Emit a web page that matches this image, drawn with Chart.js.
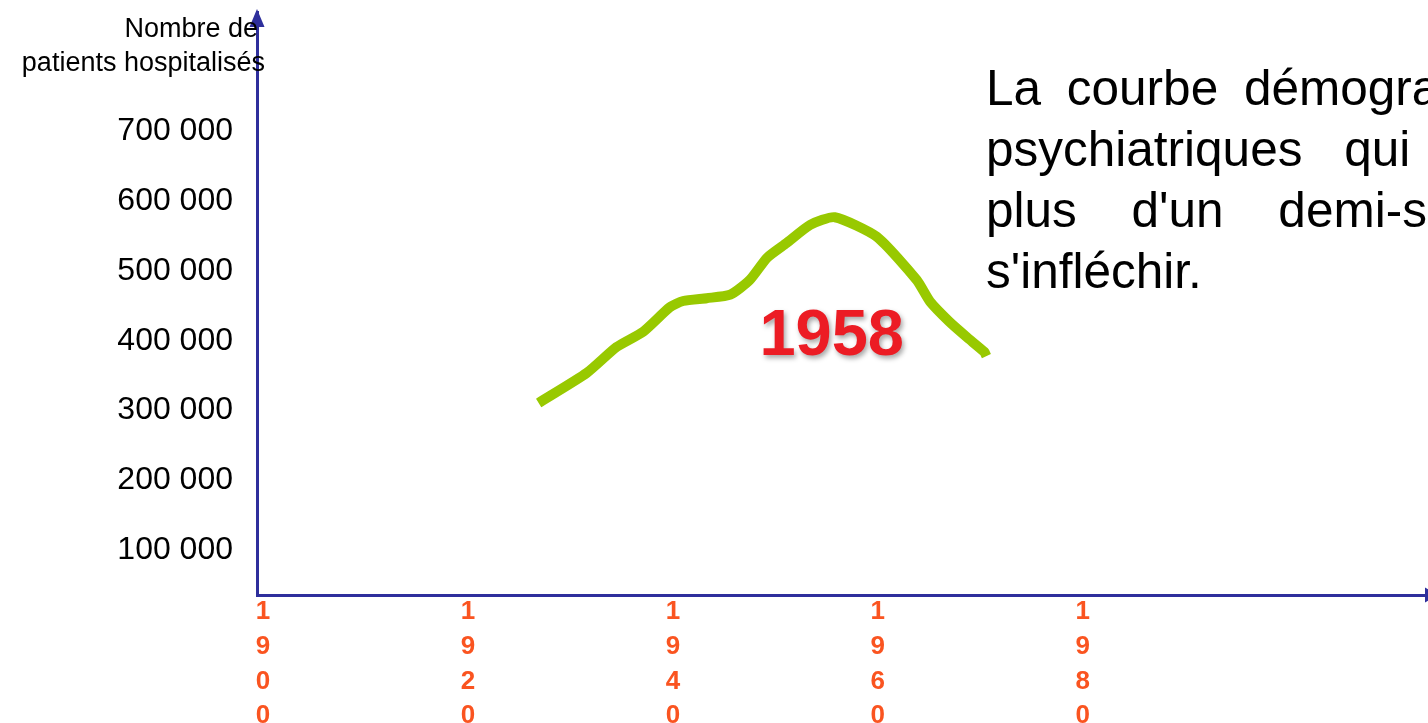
<!DOCTYPE html>
<html>
<head>
<meta charset="utf-8">
<script src="https://cdn.jsdelivr.net/npm/chart.js@4"></script>
<style>
  body { margin: 0; overflow: hidden; background: #fff; font-family: "Liberation Sans", Arial, sans-serif; }
  #wrap { position: relative; width: 1428px; height: 723px; overflow: hidden; }
  #mainChart { position: absolute; left: 0; top: 0; }
  .ytitle { position: absolute; font-size: 27px; line-height: 34px; color: #000; white-space: nowrap; }
  .para { position: absolute; left: 986px; font-size: 49.5px; line-height: 61px; color: #000; white-space: nowrap; }
</style>
</head>
<body>
<div id="wrap">
  <canvas id="mainChart" width="1428" height="723"></canvas>
  <div class="ytitle" style="right:1170px; top:11px;">Nombre de</div>
  <div class="ytitle" style="right:1163px; top:45px;">patients hospitalisés</div>
  <div class="para" style="top:57px; word-spacing:12px;">La courbe démographique des hôpitaux</div>
  <div class="para" style="top:118px; word-spacing:28px;">psychiatriques qui avait progressé depuis</div>
  <div class="para" style="top:179px; word-spacing:41px;">plus d'un demi-siècle commence à</div>
  <div class="para" style="top:240px;">s'infléchir.</div>
</div>
<script>
// data
var years = [1926.9, 1931.6, 1934.5, 1937.1, 1939.7, 1941.0, 1943.3, 1945.6, 1947.5, 1949.2,
             1951.1, 1953.4, 1955.8, 1959.9, 1963.8, 1965.1, 1967.0, 1968.7, 1970.4, 1970.6]
var patients = [311000, 354000, 391000, 413000, 448000, 457000, 461000, 466000, 487000, 519000,
                540000, 566000, 577000, 549000, 487000, 456000, 427000, 405000, 384000, 378000]
var xTicks = [1900, 1920, 1940, 1960, 1980]
var yTicks = [100000, 200000, 300000, 400000, 500000, 600000, 700000]
var noteText = "1958"
var noteYear = 1955.5
var noteValue = 405000

var axisColor = '#2e2f9c'

var points = []
for (var i = 0; i < years.length; i++) {
    points.push({x: years[i], y: patients[i]})
}

// arrows at axis ends + "1958" label
var extras = {
    id: 'extras',
    afterDraw: function (chart) {
        var c = chart.ctx
        var a = chart.chartArea
        c.save()
        c.fillStyle = axisColor
        c.beginPath()
        c.moveTo(a.left, a.top - 3)
        c.lineTo(a.left - 7.5, a.top + 15)
        c.lineTo(a.left + 7.5, a.top + 15)
        c.closePath()
        c.fill()
        c.beginPath()
        c.moveTo(a.right + 10, a.bottom)
        c.lineTo(a.right - 3, a.bottom - 7.5)
        c.lineTo(a.right - 3, a.bottom + 7.5)
        c.closePath()
        c.fill()

        var px = chart.scales.x.getPixelForValue(noteYear)
        var py = chart.scales.y.getPixelForValue(noteValue)
        c.font = 'bold 65px "Liberation Sans", Arial, sans-serif'
        c.textAlign = 'center'
        c.textBaseline = 'middle'
        c.shadowColor = 'rgba(0,0,0,0.35)'
        c.shadowBlur = 5
        c.shadowOffsetX = 2
        c.shadowOffsetY = 3
        c.fillStyle = '#ec1c24'
        c.fillText(noteText, px, py)
        c.restore()
    }
}

var ctx = document.getElementById('mainChart').getContext('2d')
var mainChart = new Chart(ctx, {
    type: 'line',
    data: {
        datasets: [{
            data: points,
            borderColor: '#98c900',
            borderWidth: 10,
            borderCapStyle: 'butt',
            borderJoinStyle: 'round',
            pointRadius: 0,
            tension: 0.2,
            fill: false
        }]
    },
    options: {
        responsive: false,
        animation: false,
        layout: { padding: { top: 12, left: 0, right: 0, bottom: 0 } },
        plugins: {
            legend: { display: false },
            tooltip: { enabled: false }
        },
        scales: {
            x: {
                type: 'linear',
                min: 1899.41,
                max: 2013.7,
                grid: { display: false, drawTicks: false },
                border: { display: true, color: axisColor, width: 3 },
                afterBuildTicks: function (scale) {
                    scale.ticks = xTicks.map(function (v) { return {value: v} })
                },
                afterFit: function (scale) {
                    scale.height = 128
                    scale.paddingLeft = 0
                    scale.paddingRight = 0
                },
                ticks: {
                    padding: 0,
                    autoSkip: false,
                    maxRotation: 0,
                    color: '#fa5420',
                    font: { family: '"Liberation Sans", Arial, sans-serif', size: 26, weight: 'bold', lineHeight: 1.33 },
                    callback: function (v) { return String(v).split('') }
                }
            },
            y: {
                min: 35800,
                max: 871000,
                grid: { display: false, drawTicks: false },
                border: { display: true, color: axisColor, width: 3 },
                afterBuildTicks: function (scale) {
                    scale.ticks = yTicks.map(function (v) { return {value: v} })
                },
                afterFit: function (scale) {
                    scale.width = 257
                    scale.paddingTop = 0
                    scale.paddingBottom = 0
                },
                ticks: {
                    padding: 24,
                    color: '#000',
                    font: { family: '"Liberation Sans", Arial, sans-serif', size: 32 },
                    callback: function (v) { return String(v / 1000) + ' 000' }
                }
            }
        }
    },
    plugins: [extras]
})
</script>
</body>
</html>
